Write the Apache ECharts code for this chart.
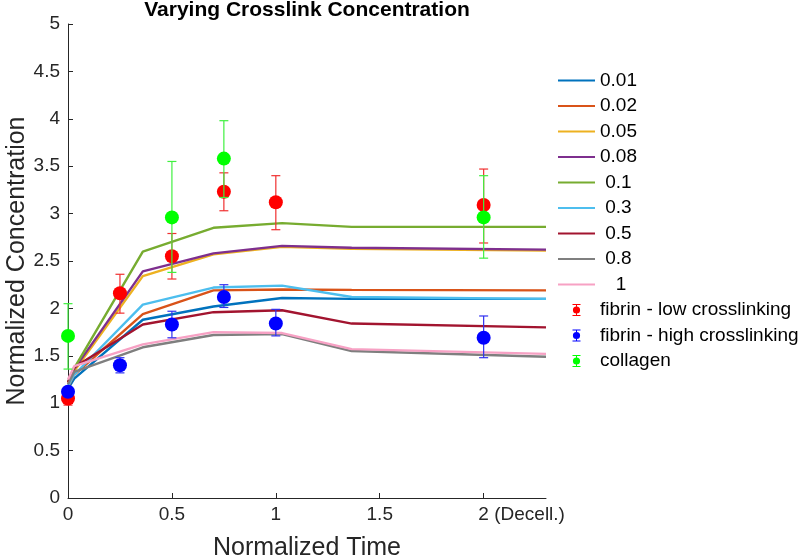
<!DOCTYPE html>
<html>
<head>
<meta charset="utf-8">
<script src="https://cdn.jsdelivr.net/npm/echarts@6/dist/echarts.min.js"></script>
<style>html,body{margin:0;padding:0;background:#fff}#c{width:800px;height:558px}</style>
</head>
<body>
<div id="c"></div>
<script>
// ---- data ----
const xTicks = [0, 0.5, 1, 1.5, 2];
const yTicks = [0, 0.5, 1, 1.5, 2, 2.5, 3, 3.5, 4, 4.5, 5];
const xSim = [0, 0.03, 0.36, 0.70, 1.03, 1.365, 2.30];
const simNames = ['0.01', '0.02', '0.05', '0.08', ' 0.1', ' 0.3', ' 0.5', ' 0.8', '   1'];
const sim001 = [1.15, 1.26, 1.88, 2.02, 2.11, 2.10, 2.10];
const sim002 = [1.17, 1.30, 1.94, 2.19, 2.20, 2.195, 2.19];
const sim005 = [1.20, 1.34, 2.34, 2.57, 2.65, 2.63, 2.61];
const sim008 = [1.22, 1.36, 2.39, 2.58, 2.66, 2.64, 2.62];
const sim01  = [1.22, 1.37, 2.60, 2.85, 2.90, 2.86, 2.86];
const sim03  = [1.18, 1.30, 2.04, 2.22, 2.24, 2.12, 2.10];
const sim05  = [1.22, 1.38, 1.83, 1.96, 1.98, 1.84, 1.80];
const sim08  = [1.20, 1.33, 1.59, 1.72, 1.73, 1.55, 1.49];
const sim1   = [1.25, 1.39, 1.62, 1.75, 1.74, 1.57, 1.52];
const simValues = [sim001, sim002, sim005, sim008, sim01, sim03, sim05, sim08, sim1];

const expNames = ['fibrin - low crosslinking', 'fibrin - high crosslinking', 'collagen'];
const lowX  = [0, 0.25, 0.5, 0.75, 1, 2];
const lowY  = [1.05, 2.16, 2.55, 3.23, 3.12, 3.09];
const lowLo = [0.98, 1.95, 2.31, 3.03, 2.83, 2.69];
const lowHi = [1.12, 2.36, 2.79, 3.43, 3.40, 3.47];
const highX  = [0, 0.25, 0.5, 0.75, 1, 2];
const highY  = [1.12, 1.40, 1.83, 2.12, 1.84, 1.69];
const highLo = [1.08, 1.32, 1.69, 2.01, 1.71, 1.48];
const highHi = [1.16, 1.48, 1.97, 2.25, 1.99, 1.92];
const colX  = [0, 0.5, 0.75, 2];
const colY  = [1.71, 2.96, 3.58, 2.96];
const colLo = [1.36, 2.38, 3.17, 2.53];
const colHi = [2.05, 3.55, 3.98, 3.40];

// ---- styles ----
const FONT = 'Liberation Sans, Arial, Helvetica, sans-serif';
const simColors = ['#0072BD', '#D95319', '#EDB120', '#7E2F8E', '#77AC30', '#4DBEEE', '#A2142F', '#7F7F7F', '#F7A1C4'];
const expColors = ['#FF0000', '#0000FF', '#00FF00'];
const barColors = ['#F03030', '#3030F0', '#40F040'];

const GRID = {left: 68, right: 254, top: 24, bottom: 60, containLabel: false, outerBoundsMode: 'none'};
const plotCenterX = GRID.left + (800 - GRID.left - GRID.right) / 2;

const TICK_FS = 19;
const titleText = 'Varying Crosslink Concentration';
const titleFont = 'bold 21px ' + FONT;
const mctx = document.createElement('canvas').getContext('2d');
mctx.font = titleFont;
const titleW = mctx.measureText(titleText).width;
mctx.font = TICK_FS + 'px ' + FONT;
const decW = mctx.measureText('2 (Decell.)').width;
const twoW = mctx.measureText('2').width;

const lineIcon = 'path://M0,0H38V2H0Z';
const ebIcon = 'path://M0,0H8V1H0Z M3.5,1H4.5V2.6H3.5Z M0.4,6A3.6,3.6 0 1 1 7.6,6A3.6,3.6 0 1 1 0.4,6Z M3.5,9.4H4.5V11H3.5Z M0,11H8V12H0Z';

function errSeries(name, xs, lo, hi, color, z) {
  return {
    name: name, type: 'custom', z: z, clip: false,
    encode: {x: 0, y: [1, 2]},
    data: xs.map((x, i) => [x, lo[i], hi[i]]),
    renderItem: function (params, api) {
      const x = api.value(0);
      const p = api.coord([x, api.value(1)]);
      const q = api.coord([x, api.value(2)]);
      const st = {stroke: color, lineWidth: 1.2};
      return {type: 'group', children: [
        {type: 'line', shape: {x1: p[0], y1: p[1], x2: q[0], y2: q[1]}, style: st},
        {type: 'line', shape: {x1: p[0] - 4.5, y1: p[1], x2: p[0] + 4.5, y2: p[1]}, style: st},
        {type: 'line', shape: {x1: q[0] - 4.5, y1: q[1], x2: q[0] + 4.5, y2: q[1]}, style: st}
      ]};
    }
  };
}
function dotSeries(name, xs, ys, color, z) {
  return {
    name: name, type: 'scatter', z: z, clip: false,
    symbol: 'circle', symbolSize: 14,
    itemStyle: {color: color, opacity: 1},
    data: xs.map((x, i) => [x, ys[i]])
  };
}

const series = [];
simNames.forEach((n, i) => {
  series.push({
    name: n, type: 'line', z: 2, showSymbol: false, symbol: 'none',
    lineStyle: {color: simColors[i], width: 2.4},
    itemStyle: {color: simColors[i]},
    data: xSim.map((x, j) => [x, simValues[i][j]])
  });
});
series.push(errSeries(expNames[0], lowX, lowLo, lowHi, barColors[0], 3));
series.push(dotSeries(expNames[0], lowX, lowY, expColors[0], 3));
series.push(errSeries(expNames[1], highX, highLo, highHi, barColors[1], 4));
series.push(dotSeries(expNames[1], highX, highY, expColors[1], 4));
series.push(errSeries(expNames[2], colX, colLo, colHi, barColors[2], 5));
series.push(dotSeries(expNames[2], colX, colY, expColors[2], 5));

const legendData = simNames.map((n, i) => ({name: n, icon: lineIcon, itemStyle: {color: simColors[i]}}))
  .concat(expNames.map((n, i) => ({name: n, icon: ebIcon, itemStyle: {color: expColors[i]}})));

const axisTxt = {color: '#262626', fontFamily: FONT, fontSize: TICK_FS};

const option = {
  animation: false,
  backgroundColor: '#ffffff',
  title: {
    text: titleText, left: plotCenterX - titleW / 2, top: 0, padding: 0,
    textStyle: {fontFamily: FONT, fontSize: 21, fontWeight: 'bold', color: '#000'}
  },
  grid: GRID,
  legend: {
    orient: 'vertical', left: 558, top: 70.5, padding: 0,
    itemWidth: 37, itemHeight: 12, itemGap: 5.5,
    selectedMode: false,
    textStyle: {fontFamily: FONT, fontSize: 19, color: '#000', lineHeight: 20},
    data: legendData
  },
  xAxis: {
    type: 'value', min: 0, max: 2.3,
    name: 'Normalized Time', nameLocation: 'middle', nameGap: 38, nameMoveOverlap: false,
    nameTextStyle: {color: '#262626', fontFamily: FONT, fontSize: 25},
    splitLine: {show: false},
    axisLine: {show: true, lineStyle: {color: '#262626', width: 1}},
    axisTick: {show: true, inside: true, length: 5, customValues: xTicks, lineStyle: {color: '#262626'}},
    axisLabel: Object.assign({}, axisTxt, {
      margin: 7, customValues: xTicks,
      formatter: function (v) { return v === 2 ? '{d|2 (Decell.)}' : String(v); },
      rich: {d: {color: '#262626', fontFamily: FONT, fontSize: TICK_FS, padding: [0, 0, 0, decW - twoW]}}
    })
  },
  yAxis: {
    type: 'value', min: 0, max: 5, interval: 0.5,
    name: 'Normalized Concentration', nameLocation: 'middle', nameGap: 38, nameMoveOverlap: false,
    nameTextStyle: {color: '#262626', fontFamily: FONT, fontSize: 25},
    splitLine: {show: false},
    axisLine: {show: true, lineStyle: {color: '#262626', width: 1}},
    axisTick: {show: true, inside: true, length: 5, customValues: yTicks, lineStyle: {color: '#262626'}},
    axisLabel: Object.assign({}, axisTxt, {margin: 8, customValues: yTicks})
  },
  series: series
};

const chart = echarts.init(document.getElementById('c'), null, {renderer: 'canvas'});
chart.setOption(option);
</script>
</body>
</html>
